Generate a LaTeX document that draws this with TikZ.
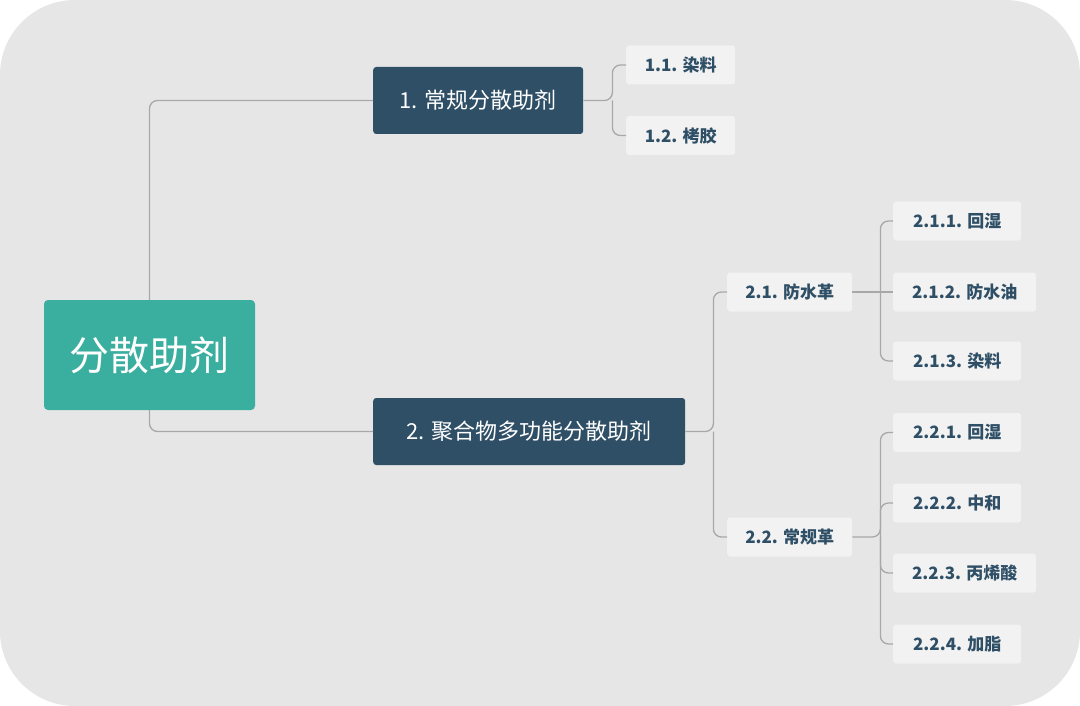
\documentclass[tikz,border=0pt]{standalone}
\usepackage{fontspec}
\setmainfont{Noto Sans CJK SC}
\definecolor{bg}{HTML}{E6E6E6}
\definecolor{teal}{HTML}{3AAFA0}
\definecolor{navy}{HTML}{2F4F66}
\definecolor{leafbg}{HTML}{F2F2F2}
\definecolor{leaftx}{HTML}{2F4F66}
\definecolor{ln}{HTML}{A8A8A8}
\begin{document}
\begin{tikzpicture}[x=1pt,y=-1pt,
  rootbox/.style={fill=teal,rounded corners=4,text=white,font=\fontsize{40}{44}\selectfont,minimum width=211,minimum height=110,inner sep=0},
  midbox/.style={fill=navy,rounded corners=3,text=white,font=\fontsize{22}{26}\selectfont,minimum height=67,inner sep=0,anchor=west},
  leaf/.style={fill=leafbg,rounded corners=3,text=leaftx,font=\bfseries\fontsize{17}{20}\selectfont,minimum height=39,inner sep=0,anchor=west},
  conn/.style={draw=ln,line width=1.3,rounded corners=8}]
\useasboundingbox (0,0) rectangle (1080,706);
\fill[white] (0,0) rectangle (1080,706);
\fill[bg,rounded corners=75] (0,0) rectangle (1080,706);
\node[rootbox] (r) at (149.5,355) {分散助剂};
\node[midbox,minimum width=210] (a) at (373,100.5) {1. 常规分散助剂};
\node[midbox,minimum width=312] (b) at (373,431.5) {2. 聚合物多功能分散助剂};
\node[leaf,minimum width=109] (a1) at (626,65) {1.1. 染料};
\node[leaf,minimum width=109] (a2) at (626,135.5) {1.2. 栲胶};
\node[leaf,minimum width=125] (b1) at (727,292) {2.1. 防水革};
\node[leaf,minimum width=125] (b2) at (727,537) {2.2. 常规革};
\node[leaf,minimum width=128] (c1) at (893,221) {2.1.1. 回湿};
\node[leaf,minimum width=143] (c2) at (893,292) {2.1.2. 防水油};
\node[leaf,minimum width=128] (c3) at (893,361) {2.1.3. 染料};
\node[leaf,minimum width=128] (d1) at (893,432.5) {2.2.1. 回湿};
\node[leaf,minimum width=128] (d2) at (893,503) {2.2.2. 中和};
\node[leaf,minimum width=143] (d3) at (893,573) {2.2.3. 丙烯酸};
\node[leaf,minimum width=128] (d4) at (893,644) {2.2.4. 加脂};
\draw[conn] (r.north) |- (a.west);
\draw[conn] (r.south) |- (b.west);
\coordinate (ja) at ([xshift=29]a.east);
\draw[conn] (a.east) -- (ja) |- (a1.west);
\draw[conn] (ja) |- (a2.west);
\coordinate (jb) at ([xshift=28]b.east);
\draw[conn] (b.east) -- (jb) |- (b1.west);
\draw[conn] (jb) |- (b2.west);
\coordinate (jc) at ([xshift=28]b1.east);
\draw[conn] (b1.east) -- (c2.west);
\draw[conn] (jc) |- (c1.west);
\draw[conn] (jc) |- (c3.west);
\coordinate (jd) at ([xshift=28]b2.east);
\draw[conn] (b2.east) -- (jd) |- (d1.west);
\draw[conn] (jd) |- (d2.west);
\draw[conn] (jd) |- (d3.west);
\draw[conn] (jd) |- (d4.west);
\end{tikzpicture}
\end{document}
